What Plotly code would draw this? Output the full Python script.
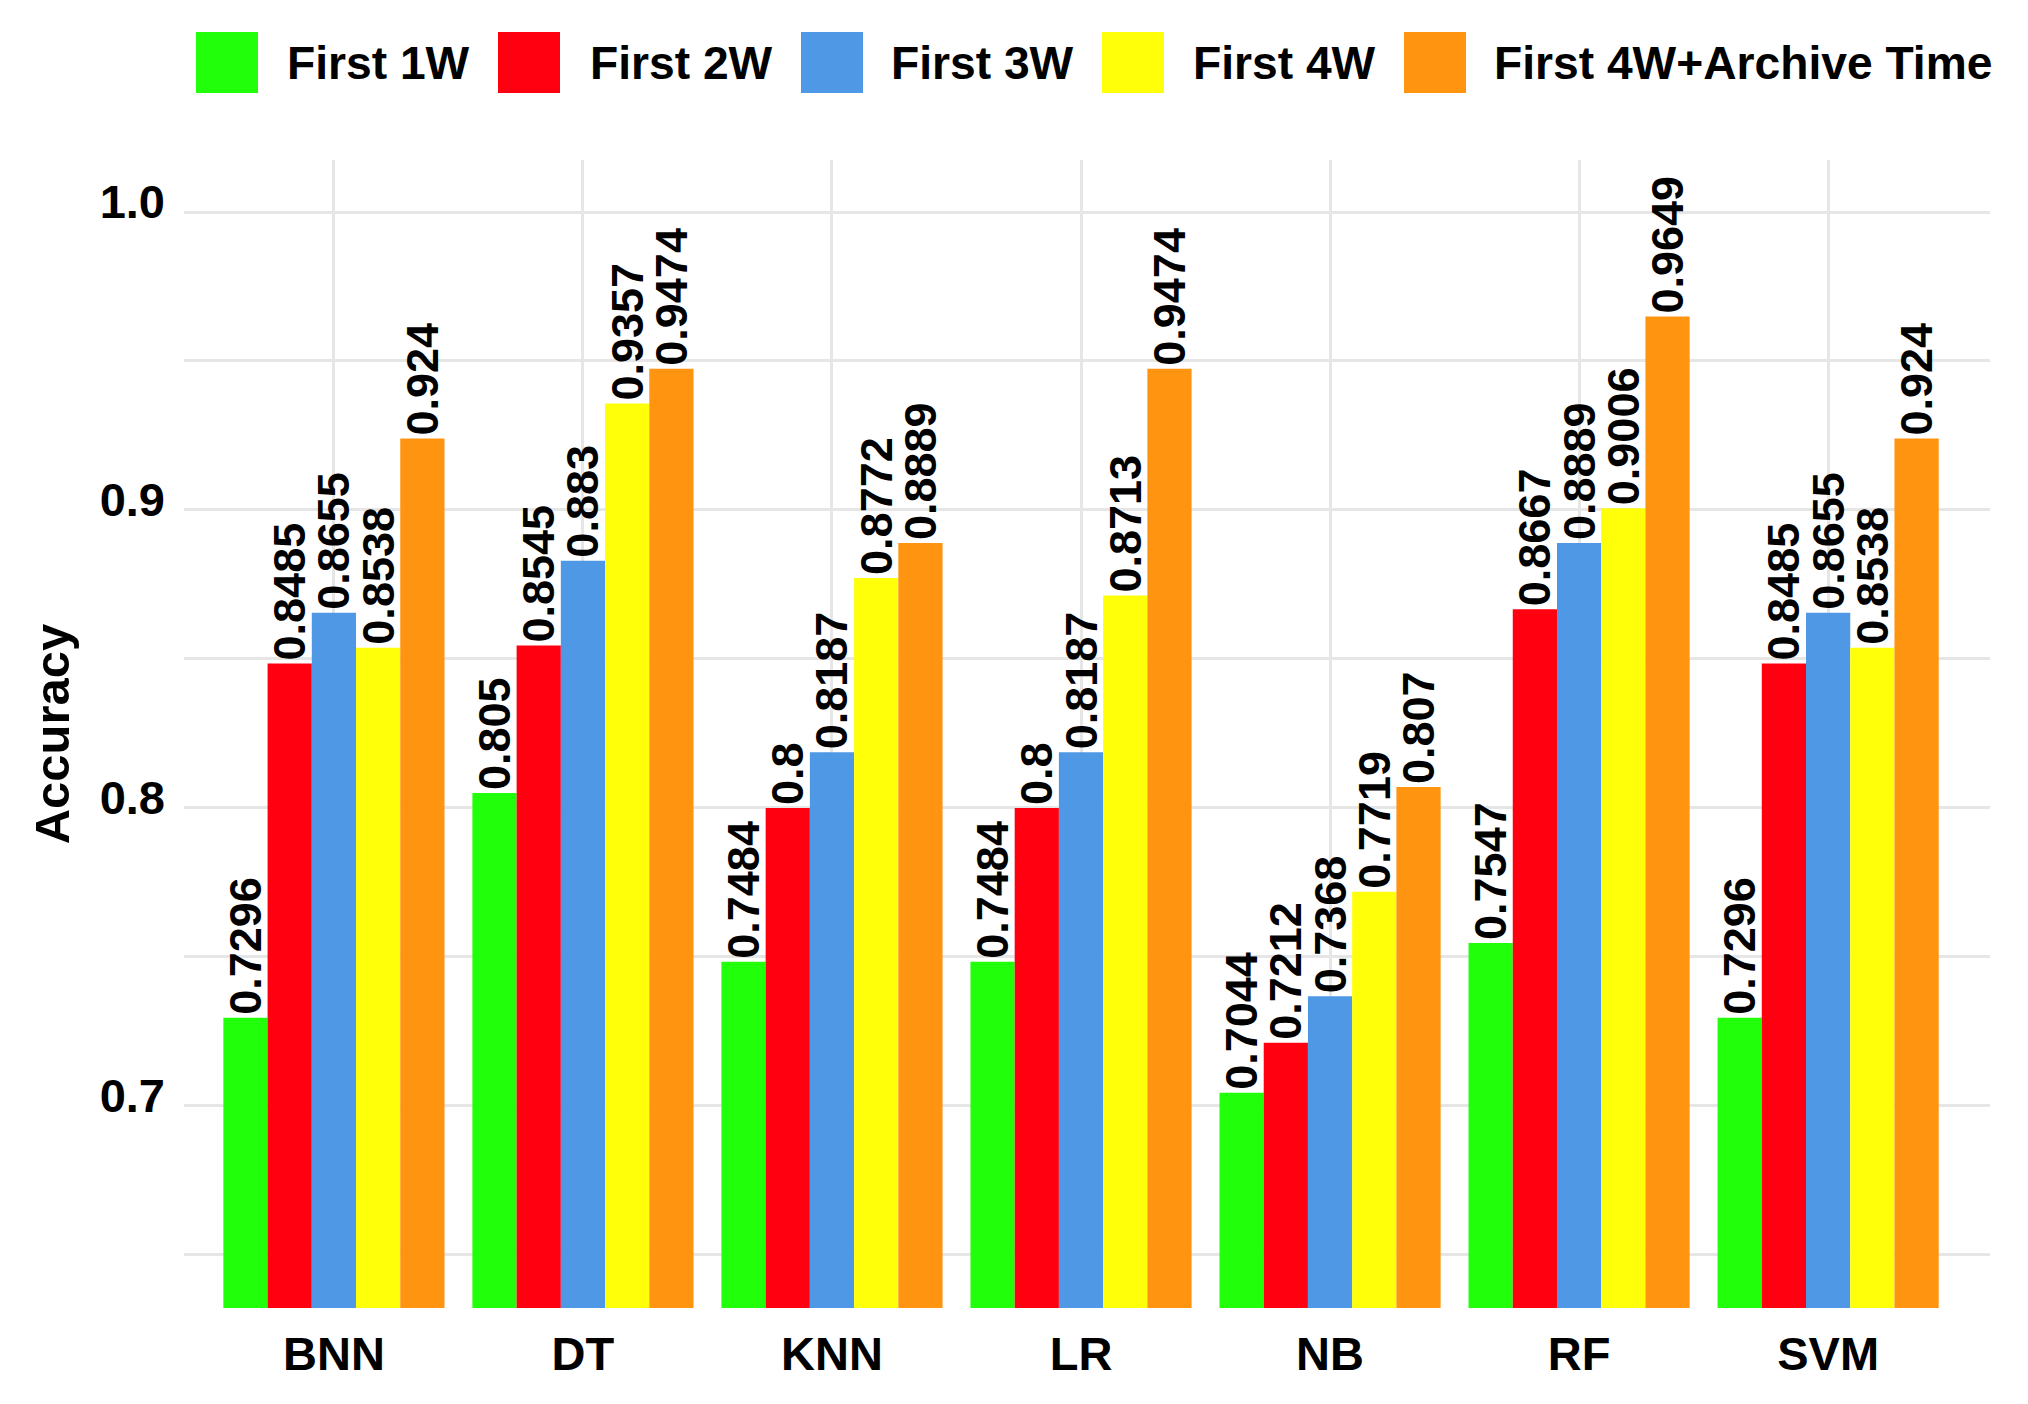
import plotly.graph_objects as go

categories = ["BNN", "DT", "KNN", "LR", "NB", "RF", "SVM"]
series_names = ["First 1W", "First 2W", "First 3W", "First 4W", "First 4W+Archive Time"]
first_1w = [0.7296, 0.805, 0.7484, 0.7484, 0.7044, 0.7547, 0.7296]
first_2w = [0.8485, 0.8545, 0.8, 0.8, 0.7212, 0.8667, 0.8485]
first_3w = [0.8655, 0.883, 0.8187, 0.8187, 0.7368, 0.8889, 0.8655]
first_4w = [0.8538, 0.9357, 0.8772, 0.8713, 0.7719, 0.9006, 0.8538]
first_4w_archive = [0.924, 0.9474, 0.8889, 0.9474, 0.807, 0.9649, 0.924]
colors = ["#22FF0A", "#FF0010", "#4F98E6", "#FFFF0A", "#FF9410"]
y_ticks = [0.7, 0.8, 0.9, 1.0]

series_values = [first_1w, first_2w, first_3w, first_4w, first_4w_archive]

FONT = "Liberation Sans, Arial, sans-serif"
OFF = 8  # page body margin offset
W, H = 2028 - OFF, 1404 - OFF
L, R, T, B = 184 - OFF, 1990 - OFF, 160 - OFF, 1308 - OFF

fig = go.Figure()
for name, vals, col in zip(series_names, series_values, colors):
    fig.add_trace(go.Bar(
        x=categories, y=vals, name=name, marker=dict(color=col, line=dict(width=0)),
        text=[str(v) for v in vals], textposition="outside", textangle=-90,
        constraintext="none", cliponaxis=False,
        textfont=dict(family=FONT, size=45, color="black", weight="bold"),
        showlegend=False, hoverinfo="skip",
    ))

def px_x(p):
    return (p - OFF - L) / (R - L)

def px_y(p):
    return (B - (p - OFF)) / (B - T)

# manual legend with large swatches
sw_left = [196, 498, 801, 1102, 1404]
tx_left = [285, 588, 889, 1191, 1492]
for name, col, sx, tx in zip(series_names, colors, sw_left, tx_left):
    fig.add_shape(type="rect", xref="paper", yref="paper",
                  x0=px_x(sx), x1=px_x(sx + 62), y0=px_y(93), y1=px_y(32),
                  fillcolor=col, line=dict(width=0))
    fig.add_annotation(xref="paper", yref="paper", x=px_x(tx), y=px_y(63),
                       text=name, showarrow=False, xanchor="left", yanchor="middle",
                       font=dict(family=FONT, size=46.2, color="black", weight="bold"))

fig.update_layout(
    width=W, height=H,
    margin=dict(l=L, r=W - R, t=T, b=H - B, pad=0),
    paper_bgcolor="white", plot_bgcolor="white",
    barmode="group", bargap=0.112, bargroupgap=0,
    font=dict(family=FONT, color="black"),
    xaxis=dict(
        range=[-0.602, 6.65], showgrid=True, gridcolor="#E6E6E6", gridwidth=3,
        showline=False, zeroline=False, ticks="",
        tickfont=dict(family=FONT, size=47, color="black", weight="bold"),
        ticklabelstandoff=14,
    ),
    yaxis=dict(
        range=[0.6322, 1.01745], tickvals=y_ticks, ticktext=[f"{v:.1f}" for v in y_ticks],
        showgrid=True, gridcolor="#E6E6E6", gridwidth=3,
        minor=dict(dtick=0.05, tick0=0.0, showgrid=True, gridcolor="#E6E6E6", gridwidth=3),
        showline=False, zeroline=False, ticks="",
        tickfont=dict(family=FONT, size=47, color="black", weight="bold"),
        ticklabelstandoff=18, ticklabelshift=-10,
        title=dict(text="Accuracy", standoff=14,
                   font=dict(family=FONT, size=49, color="black", weight="bold")),
    ),
)

fig.write_html("out.html")
